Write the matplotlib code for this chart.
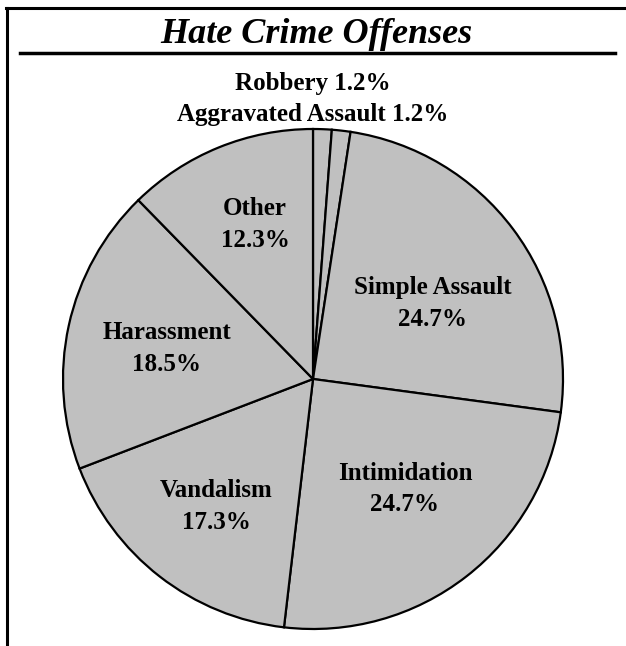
import matplotlib
matplotlib.use("Agg")
import matplotlib.pyplot as plt
import numpy as np
from matplotlib.lines import Line2D

labels = ["Robbery", "Aggravated Assault", "Simple Assault", "Intimidation",
          "Vandalism", "Harassment", "Other"]
shares = [1.2, 1.2, 24.7, 24.7, 17.3, 18.5, 12.3]

plt.rcParams['font.family'] = ['Liberation Serif', 'DejaVu Serif']

fig = plt.figure(figsize=(6.26, 6.46), dpi=100)

# frame lines (figure pixels)
W, H = 626, 646
def fig_line(x0, y0, x1, y1, lw):
    fig.add_artist(Line2D([x0 / W, x1 / W], [1 - y0 / H, 1 - y1 / H],
                          color='black', lw=lw, transform=fig.transFigure))

fig_line(6, 8, 626, 8, 2.2)
fig_line(7, 8, 7, 646, 2.2)
fig_line(20, 53, 615, 53, 2.5)

fig.text(316 / W, 1 - 43 / H, "Hate Crime Offenses", ha='center', va='baseline',
         fontsize=26, fontweight='bold', fontstyle='italic')

ax = fig.add_axes([63 / W, 1 - 629 / H, 500 / W, 500 / H])
wedges, _ = ax.pie(shares, startangle=90, counterclock=False, radius=1,
                   colors=['#c0c0c0'] * len(shares),
                   wedgeprops=dict(edgecolor='black', linewidth=1.6))
ax.set_xlim(-1, 1)
ax.set_ylim(-1, 1)
for w in wedges:
    w.set_clip_on(False)

bold = dict(fontsize=18, fontweight='bold', ha='center')

# small slices labelled above the pie
ax.text(0, 1.156, f"{labels[0]} {shares[0]}%", va='baseline', **bold)
ax.text(0, 1.032, f"{labels[1]} {shares[1]}%", va='baseline', **bold)

# label radius / angular nudge for the big slices
dist = {2: 0.562, 3: 0.58, 4: 0.649, 5: 0.595, 6: 0.651}
shift = {2: -5.5, 3: 1.5, 4: 1.1, 5: 1.5, 6: -1.3}
for i, d in dist.items():
    w = wedges[i]
    ang = np.deg2rad((w.theta1 + w.theta2) / 2 + shift[i])
    ax.text(d * np.cos(ang), d * np.sin(ang) + 0.01,
            f"{labels[i]}\n{shares[i]}%", va='center', linespacing=1.46, **bold)

fig.savefig("out.png", dpi=100)
